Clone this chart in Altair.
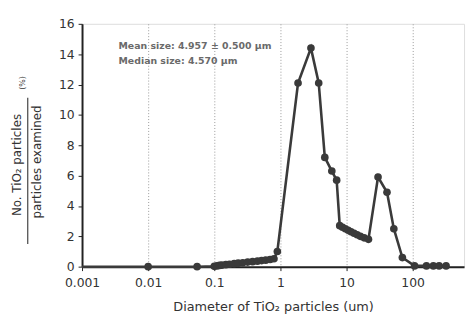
import altair as alt
import pandas as pd

diam = [0.001, 0.01, 0.055, 0.1, 0.11, 0.12, 0.13, 0.15, 0.17, 0.2, 0.23, 0.27, 0.32, 0.38,
        0.45, 0.52, 0.6, 0.7, 0.8, 0.9,
        1.85, 2.9, 3.8, 4.7, 6.0, 7.1,
        7.9, 8.7, 9.6, 10.6, 11.7, 13.0, 14.5, 16.2, 18.5, 21.5,
        30, 41, 52, 70, 107, 162, 206, 252, 321]
pct = [0.0, 0.0, 0.0, 0.02, 0.05, 0.08, 0.1, 0.13, 0.16, 0.2, 0.23, 0.26, 0.3, 0.33,
       0.36, 0.4, 0.43, 0.47, 0.52, 1.0,
       12.1, 14.4, 12.1, 7.2, 6.3, 5.7,
       2.7, 2.6, 2.5, 2.4, 2.3, 2.2, 2.1, 2.0, 1.9, 1.8,
       5.9, 4.9, 2.5, 0.6, 0.05, 0.05, 0.05, 0.05, 0.05]

df = pd.DataFrame({"d": diam, "p": pct})

x_ticks = [0.001, 0.01, 0.1, 1, 10, 100]
y_ticks = [0, 2, 4, 6, 8, 10, 12, 14, 16]
note1 = "Mean size: 4.957 ± 0.500 μm"
note2 = "Median size: 4.570 μm"
ytitle1 = "No. TiO₂ particles"
ytitle2 = "particles examined"
yunit = "(%)"

FONT = "DejaVu Sans"
COL = "#3a3a3a"
TXT = "#333333"

x = alt.X("d:Q", scale=alt.Scale(type="log", domain=[0.001, 600], nice=False),
          axis=alt.Axis(values=x_ticks, labelFlush=False,
                        labelExpr="datum.value < 1 ? format(datum.value, '') : format(datum.value, 'd')",
                        title="Diameter of TiO₂ particles (um)",
                        grid=True, gridColor="#999999", gridDash=[1, 2], gridWidth=1,
                        domainColor="#222", domainWidth=2, tickColor="#222", tickSize=4,
                        labelFontSize=12.5, labelColor=TXT, titleFontSize=13, titleColor=TXT,
                        titleFontWeight="normal",
                        labelFont=FONT, titleFont=FONT, titlePadding=12, labelPadding=6))
y = alt.Y("p:Q", scale=alt.Scale(domain=[0, 16], nice=False),
          axis=alt.Axis(values=y_ticks, title=None, grid=False, labelFlush=False,
                        domainColor="#222", domainWidth=2, tickColor="#222", tickSize=4,
                        labelFontSize=12.5, labelColor=TXT, labelFont=FONT, labelPadding=4))

line = alt.Chart(df).mark_line(color=COL, strokeWidth=2.6, clip=False).encode(x=x, y=y)
pts = alt.Chart(df).transform_filter("datum.d > 0.001").mark_circle(
    color=COL, size=60, opacity=1).encode(x=x, y=y)

ndf = pd.DataFrame({"a": [note1], "b": [note2], "c": [ytitle1], "e": [ytitle2], "u": [yunit]})
base = alt.Chart(ndf)
n1 = base.mark_text(align="left", baseline="middle", fontSize=9.5, font=FONT,
                    fontWeight="bold", color="#6a6a6a").encode(
    x=alt.value(37), y=alt.value(22), text="a:N")
n2 = base.mark_text(align="left", baseline="middle", fontSize=9.5, font=FONT,
                    fontWeight="bold", color="#6a6a6a").encode(
    x=alt.value(37), y=alt.value(38), text="b:N")

t1 = base.mark_text(angle=270, baseline="middle", fontSize=12, font=FONT, color=TXT).encode(
    x=alt.value(-66), y=alt.value(143), text="c:N")
t2 = base.mark_text(angle=270, baseline="middle", fontSize=12, font=FONT, color=TXT).encode(
    x=alt.value(-46), y=alt.value(140), text="e:N")
t3 = base.mark_text(angle=270, baseline="middle", fontSize=8, font=FONT, color=TXT).encode(
    x=alt.value(-60), y=alt.value(60), text="u:N")
bar = base.mark_rule(color="#444", strokeWidth=1.2).encode(
    x=alt.value(-55), y=alt.value(75), y2=alt.value(223))

chart = alt.layer(line, pts, n1, n2, t1, t2, t3, bar).properties(
    width=387, height=246,
    autosize=alt.AutoSizeParams(type="none"),
    padding={"left": 75, "top": 14, "right": 4, "bottom": 52},
).configure_view(stroke=None).configure(background="white")

chart.save("out.html", embed_options={"renderer": "svg", "actions": False})
